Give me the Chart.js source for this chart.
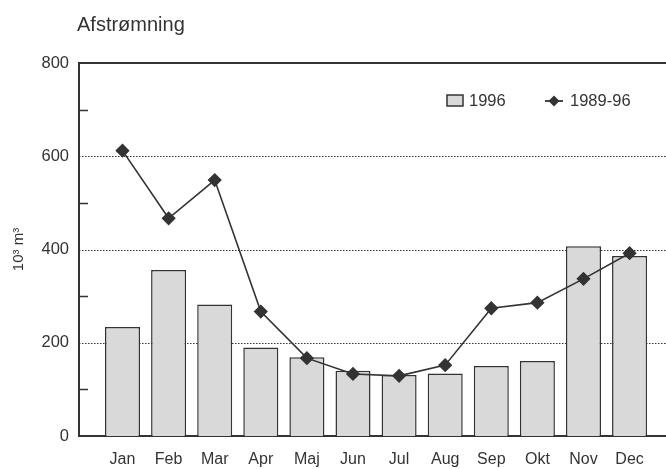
<!DOCTYPE html>
<html>
<head>
<meta charset="utf-8">
<script src="https://cdn.jsdelivr.net/npm/chart.js@4/dist/chart.umd.min.js"></script>
<style>
  html, body { margin: 0; padding: 0; background: #fff; }
  #wrap { width: 666px; height: 469px; }
</style>
</head>
<body>
<div id="wrap"><canvas id="chart" width="666" height="469"></canvas></div>
<script>
const months = ['Jan', 'Feb', 'Mar', 'Apr', 'Maj', 'Jun', 'Jul', 'Aug', 'Sep', 'Okt', 'Nov', 'Dec'];
const runoff1996 = [234, 356, 282, 190, 169, 140, 131, 134, 150, 161, 407, 386];
const runoffAvg = [612, 467, 549, 267, 167, 133, 129, 152, 274, 286, 337, 392];
const yTicks = [0, 200, 400, 600, 800];
const gridValues = [200, 400, 600];
const minorTicks = [100, 300, 500, 700];

const ink = '#333';
const font = 'Liberation Sans, Arial, sans-serif';

// extra drawing: title, dotted grid, inner ticks, legend
const decor = {
    id: 'decor',
    beforeDatasetsDraw(chart) {
        const { ctx, chartArea } = chart;
        const y = chart.scales.y;
        ctx.save();
        ctx.strokeStyle = ink;
        ctx.lineWidth = 1.2;
        ctx.setLineDash([1.5, 1.5]);
        gridValues.forEach(v => {
            const py = Math.round(y.getPixelForValue(v)) + 0.5;
            ctx.beginPath();
            ctx.moveTo(chartArea.left, py);
            ctx.lineTo(chartArea.right, py);
            ctx.stroke();
        });
        ctx.setLineDash([]);
        ctx.lineWidth = 1.5;
        minorTicks.forEach(v => {
            const py = Math.round(y.getPixelForValue(v)) + 0.5;
            ctx.beginPath();
            ctx.moveTo(chartArea.left, py);
            ctx.lineTo(chartArea.left + 9, py);
            ctx.stroke();
        });
        const top = y.getPixelForValue(800);
        ctx.lineWidth = 2;
        ctx.beginPath();
        ctx.moveTo(chartArea.left, top);
        ctx.lineTo(chartArea.right, top);
        ctx.stroke();
        ctx.restore();
    },
    afterDraw(chart) {
        const { ctx } = chart;
        ctx.save();
        ctx.fillStyle = ink;
        ctx.textBaseline = 'middle';
        ctx.font = '20px ' + font;
        ctx.fillText('Afstrømning', 77, 25);

        // legend
        ctx.font = '16.5px ' + font;
        ctx.fillStyle = '#d9d9d9';
        ctx.fillRect(447, 95, 16, 11);
        ctx.strokeStyle = ink;
        ctx.lineWidth = 1.5;
        ctx.strokeRect(447, 95, 16, 11);
        ctx.fillStyle = ink;
        ctx.fillText(chart.data.datasets[0].label, 469, 101);

        ctx.lineWidth = 1.8;
        ctx.beginPath();
        ctx.moveTo(545, 101);
        ctx.lineTo(563, 101);
        ctx.stroke();
        ctx.beginPath();
        ctx.moveTo(554, 95.5);
        ctx.lineTo(559.5, 101);
        ctx.lineTo(554, 106.5);
        ctx.lineTo(548.5, 101);
        ctx.closePath();
        ctx.fill();
        ctx.fillText(chart.data.datasets[1].label, 570, 101);
        ctx.restore();
    }
};

new Chart(document.getElementById('chart'), {
    data: {
        datasets: [
            {
                type: 'bar',
                label: '1996',
                data: runoff1996.map((v, i) => ({ x: i, y: v })),
                backgroundColor: '#d9d9d9',
                borderColor: ink,
                borderWidth: 1.5,
                categoryPercentage: 1,
                barPercentage: 0.76,
                order: 2
            },
            {
                type: 'line',
                label: '1989-96',
                data: runoffAvg.map((v, i) => ({ x: i, y: v })),
                borderColor: ink,
                borderWidth: 1.6,
                pointStyle: 'rectRot',
                pointRadius: 6,
                pointBackgroundColor: ink,
                pointBorderColor: ink,
                tension: 0,
                order: 1
            }
        ]
    },
    options: {
        responsive: false,
        animation: false,
        layout: { autoPadding: false, padding: { top: 63, left: 0, right: 0, bottom: 0 } },
        plugins: {
            legend: { display: false },
            tooltip: { enabled: false }
        },
        scales: {
            x: {
                type: 'linear',
                offset: false,
                min: -0.944,
                max: 11.79,
                afterFit: scale => { scale.height = 33; scale.paddingRight = 0; scale.paddingLeft = 0; },
                afterBuildTicks: scale => {
                    scale.ticks = months.map((m, i) => ({ value: i }));
                },
                ticks: {
                    callback: v => months[v] || '',
                    color: ink,
                    font: { family: font, size: 16 },
                    padding: 14,
                    maxRotation: 0,
                    autoSkip: false
                },
                grid: { display: false, drawTicks: false, offset: false },
                border: { display: true, color: ink, width: 2 }
            },
            y: {
                min: 0,
                max: 800,
                afterFit: scale => { scale.width = 79; },
                afterBuildTicks: scale => {
                    scale.ticks = yTicks.map(v => ({ value: v }));
                },
                ticks: {
                    color: ink,
                    font: { family: font, size: 16.5 },
                    padding: 10
                },
                grid: { display: false, drawTicks: false },
                border: { display: true, color: ink, width: 2 },
                title: {
                    display: true,
                    text: '10³ m³',
                    color: ink,
                    font: { family: font, size: 15 },
                    padding: { top: 10, bottom: 0 }
                }
            }
        }
    },
    plugins: [decor]
});
</script>
</body>
</html>
